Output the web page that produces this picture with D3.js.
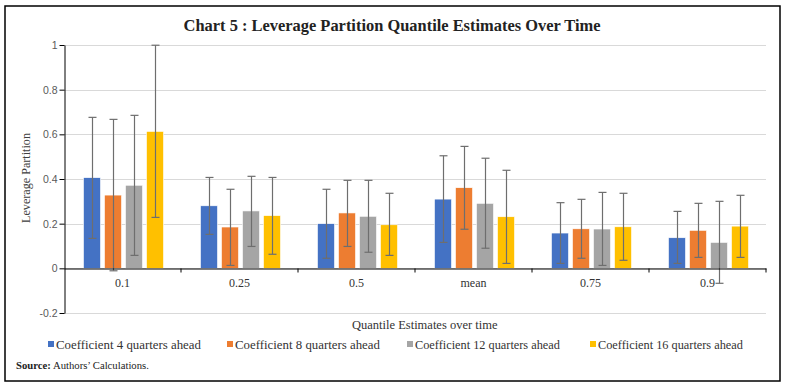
<!DOCTYPE html>
<html>
<head>
<meta charset="utf-8">
<script src="https://cdn.jsdelivr.net/npm/d3@7"></script>
<style>
  html, body { margin: 0; padding: 0; background: #fff; }
  svg { display: block; }
</style>
</head>
<body>
<svg id="chart" width="785" height="388"></svg>
<script>
// ---------- data ----------
const categories = ["0.1", "0.25", "0.5", "mean", "0.75", "0.9"];
const seriesNames = [
  "Coefficient 4 quarters ahead",
  "Coefficient 8 quarters ahead",
  "Coefficient 12 quarters ahead",
  "Coefficient 16 quarters ahead"
];
const seriesColors = ["#4472C4", "#ED7D31", "#A5A5A5", "#FFC000"];
// bar values per series (one per category)
const coef4  = [0.406, 0.280, 0.200, 0.310, 0.158, 0.137];
const coef8  = [0.328, 0.185, 0.248, 0.361, 0.177, 0.170];
const coef12 = [0.372, 0.257, 0.233, 0.291, 0.176, 0.116];
const coef16 = [0.613, 0.236, 0.195, 0.231, 0.186, 0.189];
// error bar upper / lower ends
const upper4  = [0.676, 0.407, 0.354, 0.504, 0.294, 0.255];
const lower4  = [0.134, 0.152, 0.045, 0.116, 0.022, 0.022];
const upper8  = [0.667, 0.354, 0.394, 0.546, 0.309, 0.291];
const lower8  = [-0.011, 0.013, 0.098, 0.175, 0.045, 0.049];
const upper12 = [0.685, 0.412, 0.394, 0.493, 0.340, 0.300];
const lower12 = [0.058, 0.098, 0.072, 0.090, 0.013, -0.067];
const upper16 = [0.999, 0.407, 0.336, 0.439, 0.336, 0.327];
const lower16 = [0.228, 0.063, 0.058, 0.022, 0.036, 0.049];
const yTicks = [-0.2, 0, 0.2, 0.4, 0.6, 0.8, 1];
const yTickLabels = ["-0.2", "0", "0.2", "0.4", "0.6", "0.8", "1"];

const title = "Chart 5 : Leverage Partition Quantile Estimates Over Time";
const yTitle = "Leverage Partition";
const xTitle = "Quantile Estimates over time";

const values = [coef4, coef8, coef12, coef16];
const uppers = [upper4, upper8, upper12, upper16];
const lowers = [lower4, lower8, lower12, lower16];

// ---------- layout ----------
const svg = d3.select("#chart");
const plot = { left: 64, right: 766, top: 45, bottom: 313 };
const serif = "'Liberation Serif', 'DejaVu Serif', serif";
const sans = "'Liberation Sans', 'DejaVu Sans', sans-serif";

function fitText(sel, target) {
  const node = sel.node();
  const fs = parseFloat(sel.attr("font-size"));
  const w = node.getComputedTextLength();
  if (w > 0) sel.attr("font-size", (fs * target / w).toFixed(2));
}

// outer border
svg.append("rect")
  .attr("x", 5).attr("y", 6).attr("width", 775).attr("height", 375)
  .attr("fill", "none").attr("stroke", "#000").attr("stroke-width", 1.5);

// title
const t = svg.append("text")
  .attr("x", 392).attr("y", 31)
  .attr("text-anchor", "middle")
  .attr("font-family", serif).attr("font-weight", "bold")
  .attr("font-size", 16).attr("fill", "#222")
  .text(title);
fitText(t, 417);

// scales
const y = d3.scaleLinear().domain([-0.2, 1]).range([plot.bottom, plot.top]);
const x0 = d3.scaleBand().domain(categories).range([plot.left, plot.right]).paddingInner(0).paddingOuter(0);
const x1 = d3.scaleBand().domain(d3.range(seriesNames.length))
  .range([0, x0.bandwidth()]).paddingInner(0.19).paddingOuter(0.88);

// gridlines
svg.append("g")
  .selectAll("line").data(yTicks).join("line")
  .attr("x1", plot.left).attr("x2", plot.right)
  .attr("y1", d => Math.round(y(d)) + 0.5).attr("y2", d => Math.round(y(d)) + 0.5)
  .attr("stroke", "#d9d9d9").attr("stroke-width", 1);

// y axis
const yAxis = d3.axisLeft(y).tickValues(yTicks)
  .tickFormat((d, i) => yTickLabels[i]).tickSize(5).tickSizeOuter(0);
const gy = svg.append("g").attr("transform", `translate(${plot.left + 0.5},0)`).call(yAxis);
gy.select(".domain").attr("stroke", "#000");
gy.selectAll(".tick line").attr("stroke", "#000");
gy.selectAll(".tick text")
  .attr("font-family", sans).attr("font-size", 10.5).attr("fill", "#595959").attr("x", -7);

// bars
const groups = svg.append("g").selectAll("g").data(categories).join("g")
  .attr("transform", c => `translate(${x0(c)},0)`);
groups.selectAll("rect")
  .data((c, ci) => values.map((s, si) => ({ si, v: s[ci] })))
  .join("rect")
  .attr("x", d => x1(d.si) + 1)
  .attr("width", x1.bandwidth())
  .attr("y", d => y(Math.max(0, d.v)))
  .attr("height", d => Math.abs(y(d.v) - y(0)))
  .attr("fill", d => seriesColors[d.si])
  .attr("stroke", "#fff").attr("stroke-width", 0.6);

// x axis line (at zero) with ticks between categories
const xAxis = d3.axisBottom(x0).tickSize(0).tickFormat("");
const gx = svg.append("g").attr("transform", `translate(0,${Math.round(y(0)) + 0.5})`).call(xAxis);
gx.select(".domain").attr("stroke", "#000").attr("stroke-width", 1);
const boundaries = categories.slice(1).map(c => x0(c)).concat([plot.right]);
gx.selectAll("line.sep").data(boundaries).join("line").attr("class", "sep")
  .attr("x1", d => d).attr("x2", d => d).attr("y1", 0).attr("y2", 4)
  .attr("stroke", "#000");

// category labels
svg.append("g").selectAll("text").data(categories).join("text")
  .attr("x", c => x0(c) + x0.bandwidth() / 2)
  .attr("y", 287)
  .attr("text-anchor", "middle")
  .attr("font-family", serif).attr("font-size", 12).attr("fill", "#333")
  .text(c => c);

// error bars
const eb = groups.selectAll("g.err")
  .data((c, ci) => values.map((s, si) => ({ si, hi: uppers[si][ci], lo: lowers[si][ci] })))
  .join("g").attr("class", "err")
  .attr("transform", d => `translate(${Math.round(x1(d.si) + 1 + x1.bandwidth() / 2) + 0.5},0)`);
eb.append("line").attr("x1", 0).attr("x2", 0)
  .attr("y1", d => y(d.hi)).attr("y2", d => y(d.lo))
  .attr("stroke", "#6e6e6e").attr("stroke-width", 1.2);
eb.append("line").attr("x1", -4).attr("x2", 4)
  .attr("y1", d => y(d.hi)).attr("y2", d => y(d.hi))
  .attr("stroke", "#6e6e6e").attr("stroke-width", 1.2);
eb.append("line").attr("x1", -4).attr("x2", 4)
  .attr("y1", d => y(d.lo)).attr("y2", d => y(d.lo))
  .attr("stroke", "#6e6e6e").attr("stroke-width", 1.2);

// y axis title
const yt = svg.append("text")
  .attr("transform", `translate(30,178) rotate(-90)`)
  .attr("text-anchor", "middle")
  .attr("font-family", serif).attr("font-size", 12).attr("fill", "#404040")
  .text(yTitle);
fitText(yt, 90);

// x axis title
svg.append("text")
  .attr("x", 352).attr("y", 329)
  .attr("font-family", serif).attr("font-size", 12.5).attr("fill", "#333")
  .text(xTitle);

// legend
const legendX = [48, 227, 407, 590];
const lg = svg.append("g").selectAll("g").data(seriesNames).join("g")
  .attr("transform", (d, i) => `translate(${legendX[i]},341)`);
lg.append("rect").attr("width", 6).attr("height", 6)
  .attr("fill", (d, i) => seriesColors[i]);
lg.append("text").attr("x", 8).attr("y", 7.5)
  .attr("font-family", serif).attr("font-size", 12.5).attr("fill", "#333")
  .text(d => d)
  .each(function () { fitText(d3.select(this), 145); });

// source
const src = svg.append("text").attr("x", 16).attr("y", 369)
  .attr("font-family", serif).attr("font-size", 10).attr("fill", "#222");
src.append("tspan").attr("font-weight", "bold").text("Source:");
src.append("tspan").text(" Authors’ Calculations.");
fitText(src, 133);
</script>
</body>
</html>
